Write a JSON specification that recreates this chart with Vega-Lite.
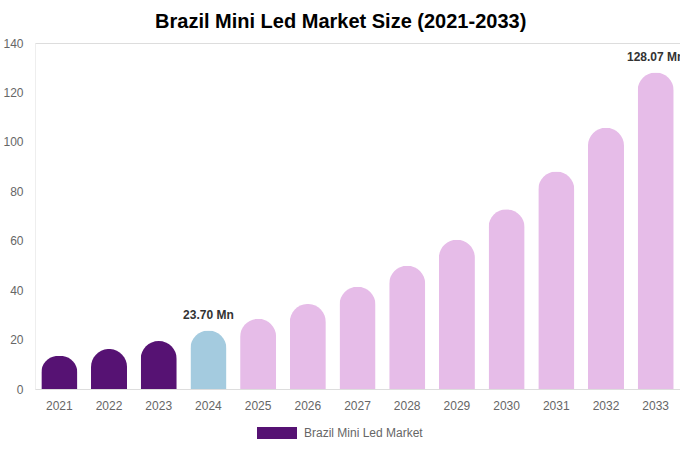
{
  "$schema": "https://vega.github.io/schema/vega-lite/v6.json",
  "description": "Brazil Mini Led Market Size 2021-2033",
  "autosize": {"type": "none"},
  "width": 645,
  "height": 346,
  "padding": {"left": 35, "top": 43, "right": 0, "bottom": 61},
  "background": "white",
  "title": {
    "text": "Brazil Mini Led Market Size (2021-2033)",
    "fontSize": 20,
    "fontWeight": "bold",
    "font": "Liberation Sans",
    "color": "#000000",
    "anchor": "middle",
    "frame": "bounds",
    "offset": 5,
    "dx": -3
  },
  "data": {
    "values": [
      {"Year": "2021", "Size": 13.4, "Segment": "Brazil Mini Led Market", "Label": ""},
      {"Year": "2022", "Size": 16.2, "Segment": "Brazil Mini Led Market", "Label": ""},
      {"Year": "2023", "Size": 19.4, "Segment": "Brazil Mini Led Market", "Label": ""},
      {"Year": "2024", "Size": 23.7, "Segment": "Base Year", "Label": "23.70 Mn"},
      {"Year": "2025", "Size": 28.4, "Segment": "Forecast", "Label": ""},
      {"Year": "2026", "Size": 34.4, "Segment": "Forecast", "Label": ""},
      {"Year": "2027", "Size": 41.4, "Segment": "Forecast", "Label": ""},
      {"Year": "2028", "Size": 49.9, "Segment": "Forecast", "Label": ""},
      {"Year": "2029", "Size": 60.4, "Segment": "Forecast", "Label": ""},
      {"Year": "2030", "Size": 72.7, "Segment": "Forecast", "Label": ""},
      {"Year": "2031", "Size": 88.0, "Segment": "Forecast", "Label": ""},
      {"Year": "2032", "Size": 105.7, "Segment": "Forecast", "Label": ""},
      {"Year": "2033", "Size": 128.07, "Segment": "Forecast", "Label": "128.07 Mn"}
    ]
  },
  "encoding": {
    "x": {
      "field": "Year",
      "type": "ordinal",
      "scale": {"paddingInner": 0.275, "paddingOuter": 0.127},
      "axis": {
        "title": null,
        "labelAngle": 0,
        "labelFont": "Liberation Sans",
        "labelFontSize": 12,
        "labelColor": "#666666",
        "labelPadding": 11,
        "ticks": false,
        "domainColor": "#dddddd"
      }
    },
    "y": {
      "field": "Size",
      "type": "quantitative",
      "scale": {"domain": [0, 140]},
      "axis": {
        "title": null,
        "values": [0, 20, 40, 60, 80, 100, 120, 140],
        "grid": false,
        "ticks": false,
        "labelFont": "Liberation Sans",
        "labelFontSize": 12,
        "labelColor": "#666666",
        "labelPadding": 12,
        "domainColor": "#eeeeee"
      }
    }
  },
  "layer": [
    {
      "mark": {"type": "bar", "cornerRadiusTopLeft": 18, "cornerRadiusTopRight": 18},
      "encoding": {
        "color": {
          "field": "Segment",
          "type": "nominal",
          "scale": {
            "domain": ["Brazil Mini Led Market", "Base Year", "Forecast"],
            "range": ["#561273", "#a4cbdf", "#e6bce8"]
          },
          "legend": {
            "values": ["Brazil Mini Led Market"],
            "title": null,
            "orient": "none",
            "legendX": 222,
            "legendY": 370,
            "padding": 0,
            "symbolType": "M-1,-0.3L1,-0.3L1,0.3L-1,0.3Z",
            "symbolSize": 1600,
            "symbolStrokeWidth": 0,
            "labelFont": "Liberation Sans",
            "labelFontSize": 12,
            "labelColor": "#666666",
            "labelOffset": 7
          }
        }
      }
    },
    {
      "mark": {
        "type": "text",
        "baseline": "bottom",
        "dy": -8,
        "font": "Liberation Sans",
        "fontSize": 12,
        "fontWeight": "bold",
        "color": "#333333"
      },
      "encoding": {
        "text": {"field": "Label"}
      }
    }
  ]
}
